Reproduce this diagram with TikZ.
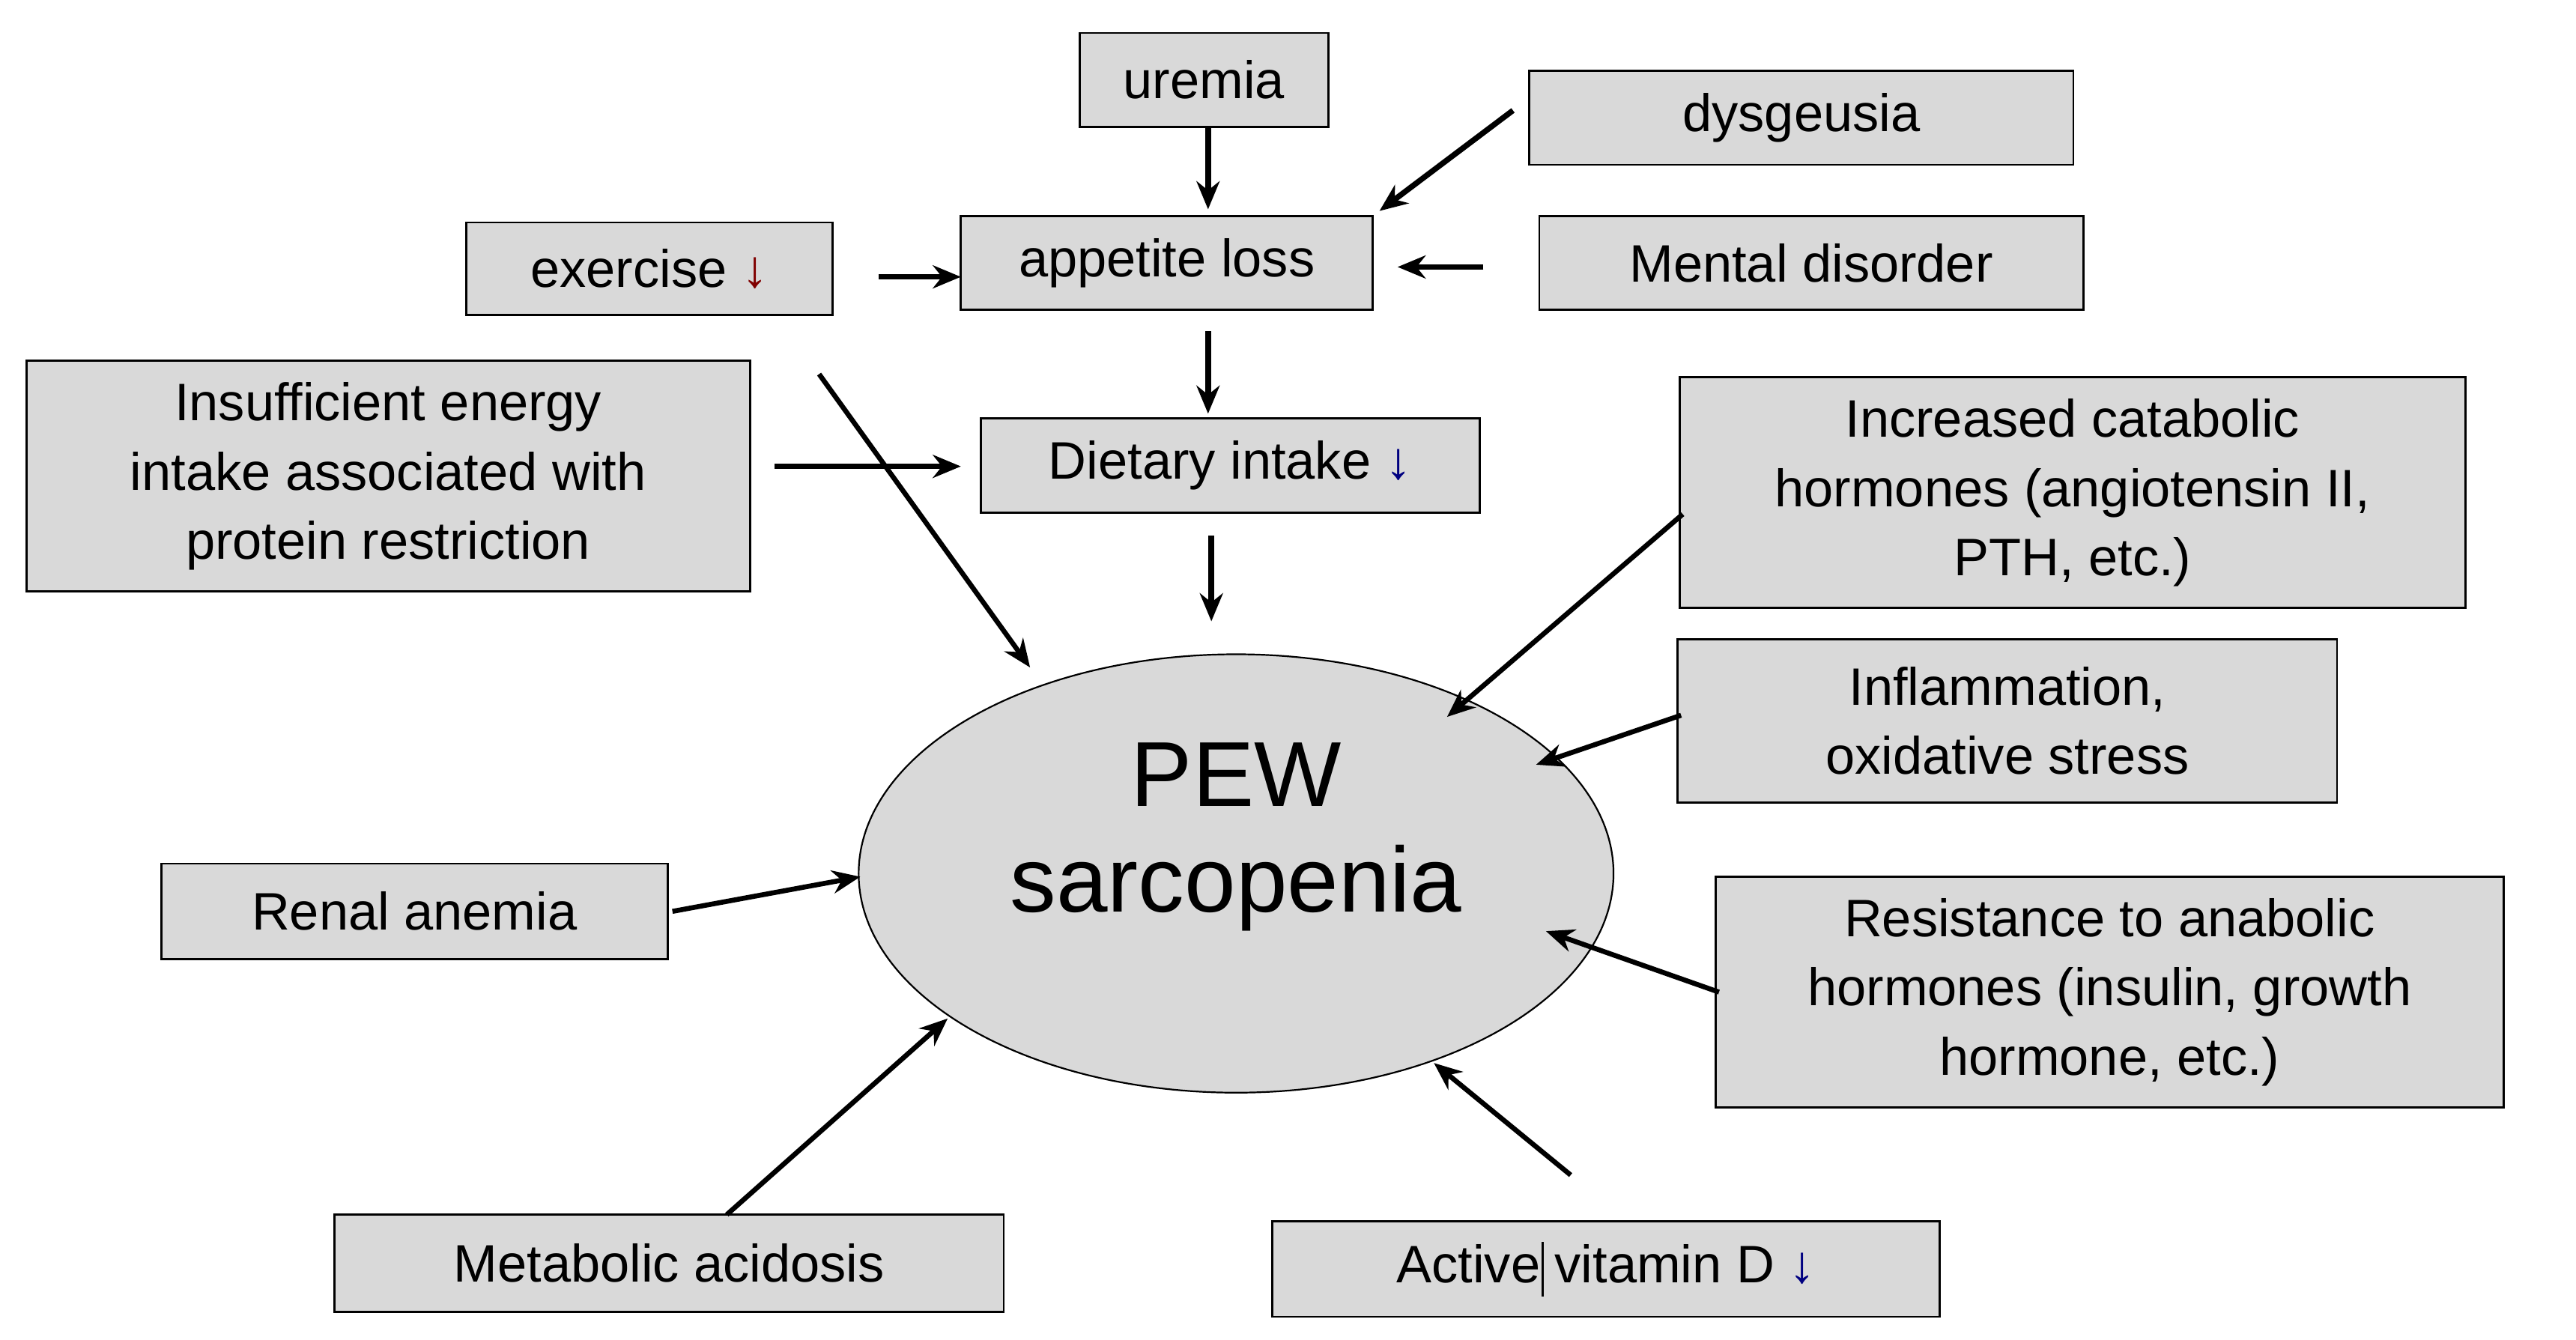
\documentclass[tikz,border=0pt]{standalone}
\usepackage{fontspec}
\setmainfont{Liberation Sans}
\usetikzlibrary{arrows.meta,shapes.geometric}
\begin{document}
\begin{tikzpicture}[x=1pt,y=-1pt,
  bx/.style={draw,line width=1.3pt,fill=black!15,inner sep=0pt,align=center,font=\fontsize{32}{42}\selectfont},
  ar/.style={line width=3.4pt,-{Stealth[length=17pt,width=14pt]}},
  ad/.style={line width=3pt,-{Stealth[length=17pt,width=14pt]}}]
\useasboundingbox (0,0) rectangle (1563,813);
\newcommand\bbox[6]{\node[bx,minimum width=#4-#2,minimum height=#5-#3] (#1) at ({(#2+#4)/2-2},{(#3+#5)/2}) {#6};}
\bbox{ur}{657}{20}{808}{77}{uremia}
\bbox{dy}{930}{43}{1260}{100}{dysgeusia}
\bbox{ex}{285}{135}{507}{191}{exercise {\color{red!50!black}↓}}
\bbox{ap}{585}{131}{835}{188}{appetite loss}
\bbox{md}{936}{131}{1266}{188}{Mental disorder}
\bbox{ins}{18}{219}{457}{359}{Insufficient energy\\intake associated with\\protein restriction}
\bbox{di}{597}{254}{900}{311}{Dietary intake {\color{blue!50!black}↓}}
\bbox{ca}{1021}{229}{1498}{369}{Increased catabolic\\hormones (angiotensin II,\\PTH, etc.)}
\bbox{inf}{1020}{388}{1420}{487}{Inflammation,\\oxidative stress}
\bbox{ra}{100}{524}{407}{582}{Renal anemia}
\bbox{re}{1043}{532}{1521}{672}{Resistance to anabolic\\hormones (insulin, growth\\hormone, etc.)}
\bbox{ma}{205}{737}{611}{796}{Metabolic acidosis}
\bbox{vd}{774}{741}{1179}{799}{Active\rlap{\hspace{1pt}\vrule height 25pt depth 8pt width 1pt} vitamin D {\color{blue!50!black}↓}}
\node[draw,line width=1pt,fill=black!15,ellipse,minimum width=458pt,minimum height=266pt] (pew) at (750,530) {};
\node[align=center,font=\fontsize{56}{64}\selectfont] (pewt) at (750,508) {PEW\\sarcopenia};
\foreach \n/\a/\b/\c/\d in {a1/733/77/733/127, a2/918/67/837/128, a3/533/168/583/168, a4/900/162/848/162, a5/733/201/733/251, a6/470/283/583/283, a7/735/325/735/377}
  {\coordinate (\n s) at (\a,\b); \coordinate (\n e) at (\c,\d); \draw[ar] (\n s) -- (\n e);}
\foreach \n/\a/\b/\c/\d in {b1/497/227/625/405, b2/1021/312/878/435, b3/1020/434/932/464, b4/408/553/522/532, b5/1043/602/938/565, b6/441/737/575/618, b7/953/713/870/645}
  {\coordinate (\n s) at (\a,\b); \coordinate (\n e) at (\c,\d); \draw[ad] (\n s) -- (\n e);}
\end{tikzpicture}
\end{document}
